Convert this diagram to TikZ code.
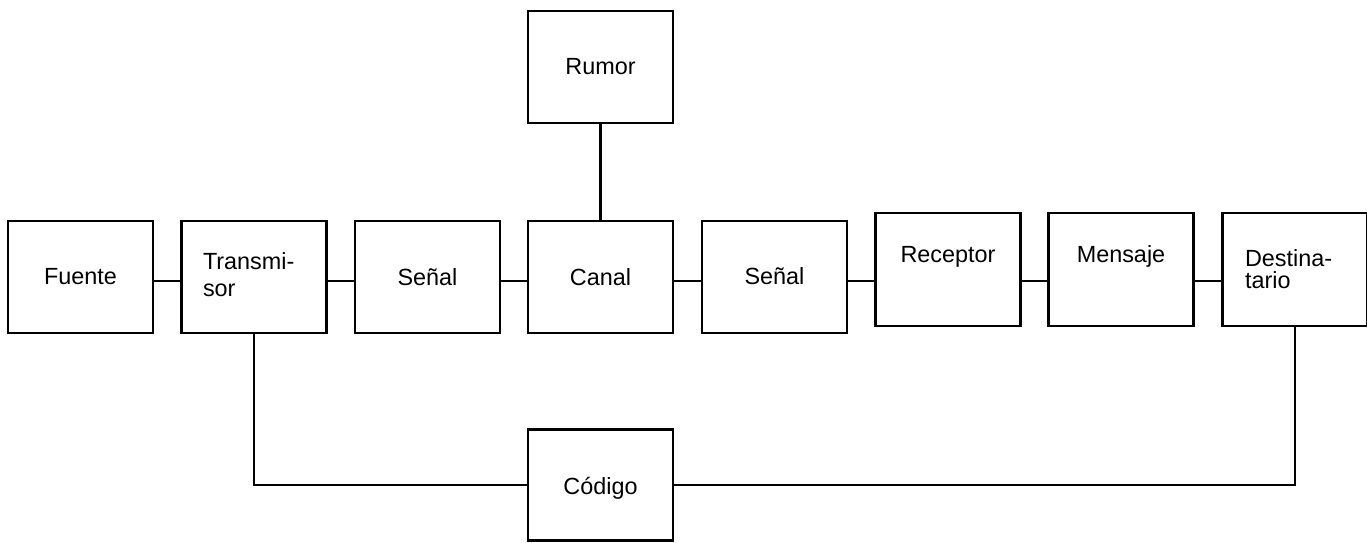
\documentclass[tikz,border=0pt]{standalone}
\usepackage{fontspec}
\setmainfont{Liberation Sans}
\begin{document}
\begin{tikzpicture}[x=0.5pt, y=-0.5pt,
  box/.style={draw=black, line width=1.35pt, minimum width=72.5pt,
    minimum height=56pt, inner sep=0pt, outer sep=0pt},
  link/.style={draw=black, line width=1.3pt},
  lbl/.style={inner sep=0pt, outer sep=0pt, anchor=base,
    font=\fontsize{11.7}{13.5}\selectfont},
  lbl2/.style={inner sep=0pt, outer sep=0pt, anchor=north west, align=left,
    font=\fontsize{11.7}{13.5}\selectfont}]
\useasboundingbox (0,0) rectangle (1367,542);

% blocks of the main chain
\node[box] (fuente)   at (80.5, 277)   {};
\node[box] (trans)    at (254, 277)    {};
\node[box] (senal1)   at (427.5, 277)  {};
\node[box] (canal)    at (600.5, 277)  {};
\node[box] (senal2)   at (774.5, 277)  {};
\node[box, minimum height=56.5pt] (receptor) at (948, 269.6)  {};
\node[box, minimum height=56.5pt] (mensaje)  at (1121, 269.6) {};
\node[box, minimum height=56.5pt] (destin)   at (1295, 269.6) {};
\node[box] (rumor)    at (600.5, 67)   {};
\node[box, minimum height=55.5pt] (codigo)   at (600.5, 485)  {};

% labels
\node[lbl] (tfuente) at (80.5, 284)  {Fuente};
\node[lbl2] (ttrans) at (203, 252.5) {Transmi-\\sor};
\node[lbl] (tsenal1) at (427.5, 285) {Señal};
\node[lbl] (tcanal)  at (600.5, 285) {Canal};
\node[lbl] (tsenal2) at (774.5, 284) {Señal};
\node[lbl] (treceptor) at (948, 262.3) {Receptor};
\node[lbl] (tmensaje)  at (1121, 262.3) {Mensaje};
\node[lbl2, font=\fontsize{11.7}{11.2}\selectfont] (tdestin) at (1245, 249.2) {Destina-\\tario};
\node[lbl] (trumor)  at (600.5, 74)  {Rumor};
\node[lbl] (tcodigo) at (600.5, 494) {Código};

% horizontal links along the chain
\coordinate (row) at (0, 281);
\draw[link] (fuente.east |- row)   -- (trans.west |- row);
\draw[link] (trans.east |- row)    -- (senal1.west |- row);
\draw[link] (senal1.east |- row)   -- (canal.west |- row);
\draw[link] (canal.east |- row)    -- (senal2.west |- row);
\draw[link] (senal2.east |- row)   -- (receptor.west |- row);
\draw[link] (receptor.east |- row) -- (mensaje.west |- row);
\draw[link] (mensaje.east |- row)  -- (destin.west |- row);

% noise source into the channel
\draw[link] (rumor.south) -- (canal.north);

% shared code between transmitter and destination
\draw[link] (trans.south) -- (trans.south |- codigo.west) -- (codigo.west);
\draw[link] (codigo.east) -- (destin.south |- codigo.east) -- (destin.south);
\end{tikzpicture}
\end{document}
